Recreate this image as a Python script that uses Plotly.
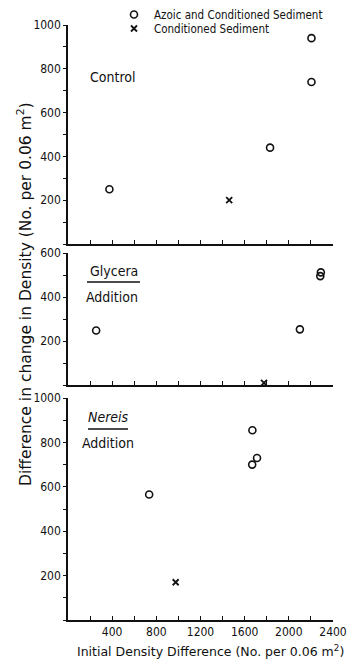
import plotly.graph_objects as go

# ---------------- data ----------------
control_azoic_x = [375, 1830, 2205, 2205]
control_azoic_y = [250, 440, 940, 740]
control_cond_x = [1460]
control_cond_y = [200]

glycera_azoic_x = [255, 2100, 2285, 2290]
glycera_azoic_y = [248, 253, 495, 512]
glycera_cond_x = [1775]
glycera_cond_y = [10]

nereis_azoic_x = [735, 1670, 1668, 1712]
nereis_azoic_y = [565, 855, 700, 730]
nereis_cond_x = [975]
nereis_cond_y = [170]

series_names = ["Azoic and Conditioned Sediment", "Conditioned Sediment"]
x_tickvals = [400, 800, 1200, 1600, 2000, 2400]
y_tickvals_1000 = [200, 400, 600, 800, 1000]
y_tickvals_600 = [200, 400, 600]
panel_labels = ["Control", "Glycera", "Addition", "Nereis", "Addition"]

# ---------------- layout helpers ----------------
W, H = 350, 663


def py(pix):
    return 1 - pix / H


def px(pix):
    return pix / W


FONT = "DejaVu Sans Condensed, Liberation Sans Narrow, Arial Narrow, sans-serif"
WIDE = "DejaVu Sans, Liberation Sans, sans-serif"
BLACK = "#111111"

fig = go.Figure()

panels = [
    (control_azoic_x, control_azoic_y, control_cond_x, control_cond_y, "x", "y"),
    (glycera_azoic_x, glycera_azoic_y, glycera_cond_x, glycera_cond_y, "x2", "y2"),
    (nereis_azoic_x, nereis_azoic_y, nereis_cond_x, nereis_cond_y, "x3", "y3"),
]
for i, (ax, ay, cx, cy, xr, yr) in enumerate(panels):
    fig.add_trace(go.Scatter(
        x=ax, y=ay, xaxis=xr, yaxis=yr, mode="markers",
        name=series_names[0], legendgroup="a", showlegend=(i == 0), legend="legend",
        marker=dict(symbol="circle-open", size=7, color=BLACK, line=dict(width=1.6, color=BLACK)),
        cliponaxis=False,
    ))
    fig.add_trace(go.Scatter(
        x=cx, y=cy, xaxis=xr, yaxis=yr, mode="markers",
        name=series_names[1], legendgroup="c", showlegend=(i == 0), legend="legend2",
        marker=dict(symbol="x-thin-open", size=6, color=BLACK, line=dict(width=1.8, color=BLACK)),
        cliponaxis=False,
    ))

xdom = [px(68), px(333)]
xcommon = dict(
    range=[0, 2400], tickvals=x_tickvals, ticks="inside", ticklen=4, tickwidth=1.2,
    tickcolor=BLACK, showline=True, linecolor=BLACK, linewidth=1.5, showgrid=False,
    zeroline=False, fixedrange=True, domain=xdom,
    minor=dict(dtick=200, tick0=0, ticks="inside", ticklen=4, tickwidth=1.2, tickcolor=BLACK, showgrid=False),
    tickfont=dict(family=FONT, size=12, color=BLACK),
)
ycommon = dict(
    ticks="outside", ticklen=3, tickwidth=1.2, tickcolor=BLACK, showline=True,
    linecolor=BLACK, linewidth=1.5, showgrid=False, zeroline=False, fixedrange=True,
    tickfont=dict(family=FONT, size=12, color=BLACK), ticklabelstandoff=0,
    minor=dict(dtick=100, tick0=0, ticks="outside", ticklen=3, tickwidth=1.2, tickcolor=BLACK, showgrid=False),
)

legend_common = dict(
    xanchor="left", yanchor="top",
    font=dict(family=FONT, size=11.5, color=BLACK),
    bgcolor="rgba(0,0,0,0)", itemwidth=30, tracegroupgap=0, borderwidth=0,
)

fig.update_layout(
    width=W, height=H,
    margin=dict(l=0, r=0, t=0, b=0, autoexpand=False),
    paper_bgcolor="white", plot_bgcolor="white",
    font=dict(family=FONT, color=BLACK),
    showlegend=True,
    legend=dict(**legend_common, x=px(114), y=py(0)),
    legend2=dict(**legend_common, x=px(114), y=py(14)),
    xaxis=dict(**xcommon, anchor="y", showticklabels=False),
    xaxis2=dict(**xcommon, anchor="y2", showticklabels=False),
    xaxis3=dict(**xcommon, anchor="y3"),
    yaxis=dict(**ycommon, domain=[py(244), py(25)], anchor="x", range=[0, 1000], tickvals=y_tickvals_1000),
    yaxis2=dict(**ycommon, domain=[py(385), py(253)], anchor="x2", range=[0, 600], tickvals=y_tickvals_600),
    yaxis3=dict(**ycommon, domain=[py(620), py(398)], anchor="x3", range=[0, 1000], tickvals=y_tickvals_1000),
)

ann = [
    dict(text=panel_labels[0], x=px(88), y=py(77), xanchor="left", yanchor="middle", font=dict(size=14)),
    dict(text=panel_labels[1], x=px(114), y=py(271), xanchor="center", yanchor="middle", font=dict(size=14)),
    dict(text=panel_labels[2], x=px(112), y=py(297), xanchor="center", yanchor="middle", font=dict(size=14)),
    dict(text="<i>" + panel_labels[3] + "</i>", x=px(108), y=py(417), xanchor="center", yanchor="middle", font=dict(size=14)),
    dict(text=panel_labels[4], x=px(108), y=py(443), xanchor="center", yanchor="middle", font=dict(size=14)),
    dict(text="Difference in change in Density (No. per 0.06 m<sup>2</sup>)", x=px(24), y=py(294),
         xanchor="center", yanchor="middle", textangle=-90, font=dict(size=15.5, family=WIDE)),
    dict(text="Initial Density Difference (No. per 0.06 m<sup>2</sup>)", x=px(210), y=py(651),
         xanchor="center", yanchor="middle", font=dict(size=12.5, family=WIDE)),
]
for a in ann:
    a.update(xref="paper", yref="paper", showarrow=False)
    a["font"] = dict(color=BLACK, **({"family": FONT} | a["font"]))
fig.update_layout(annotations=ann)

fig.add_shape(type="line", xref="paper", yref="paper", x0=px(87), x1=px(140), y0=py(282), y1=py(282),
              line=dict(color=BLACK, width=1.5))
fig.add_shape(type="line", xref="paper", yref="paper", x0=px(88), x1=px(128), y0=py(429), y1=py(429),
              line=dict(color=BLACK, width=1.5))

fig.write_html(
    "out.html",
    config={"displayModeBar": False},
    post_script="document.body.style.margin='0';document.body.style.overflow='hidden';",
)
